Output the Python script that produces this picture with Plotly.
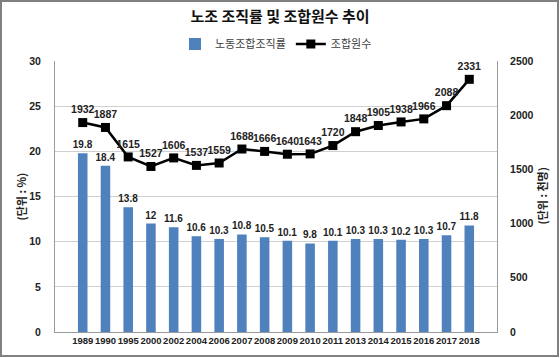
import plotly.graph_objects as go

years = ["1989", "1990", "1995", "2000", "2002", "2004", "2006", "2007", "2008",
         "2009", "2010", "2011", "2013", "2014", "2015", "2016", "2017", "2018"]
rate = [19.8, 18.4, 13.8, 12, 11.6, 10.6, 10.3, 10.8, 10.5,
        10.1, 9.8, 10.1, 10.3, 10.3, 10.2, 10.3, 10.7, 11.8]
members = [1932, 1887, 1615, 1527, 1606, 1537, 1559, 1688, 1666,
           1640, 1643, 1720, 1848, 1905, 1938, 1966, 2088, 2331]

KR = "Noto Sans CJK KR"
NUM = "Liberation Sans"
W, H = 560, 358
L, R, T, B = 55, 63, 61, 26
pw, ph = W - L - R, H - T - B

fig = go.Figure()
fig.add_trace(go.Bar(
    x=years, y=rate, name="노동조합조직률",
    marker=dict(color="#4F81BD", line=dict(width=0)),
    text=[f"{v:g}" for v in rate], textposition="outside",
    textfont=dict(family=NUM, size=10, color="#222222", weight="bold"),
    constraintext="none",
    cliponaxis=False, width=0.42,
))
fig.add_trace(go.Scatter(
    x=years, y=members, name="조합원수", yaxis="y2",
    mode="lines+markers+text",
    line=dict(color="black", width=2.5),
    marker=dict(symbol="square", size=9, color="black"),
    text=[str(v) for v in members], textposition="top center",
    textfont=dict(family=NUM, size=10.5, color="#222222", weight="bold"),
    cliponaxis=False,
))

fig.update_layout(
    width=W, height=H,
    margin=dict(l=L, r=R, t=T, b=B, autoexpand=False),
    paper_bgcolor="white", plot_bgcolor="white",
    font=dict(family=KR, color="#222222"),
    title=dict(text="<b>노조 조직률 및 조합원수 추이</b>", x=0.5, xanchor="center",
               y=1 - 17 / H, yanchor="middle",
               font=dict(family=KR, size=15, color="#111111")),
    legend=dict(orientation="h", x=0.5, xanchor="center", y=1 + 17 / ph, yanchor="middle",
                font=dict(family=KR, size=11, color="#404040"),
                itemwidth=30, bgcolor="rgba(0,0,0,0)"),
    showlegend=True,
    xaxis=dict(type="category", showgrid=False, showline=True, linecolor="#9a9a9a",
               linewidth=1, ticks="", tickangle=0, automargin=False,
               tickfont=dict(family=NUM, size=9.5, color="#222222", weight="bold")),
    yaxis=dict(range=[0, 30], dtick=5, showgrid=True, gridcolor="#d0d0d0",
               showline=True, linecolor="#9a9a9a", linewidth=1, ticks="",
               ticklabelstandoff=11, zeroline=False, automargin=False,
               tickfont=dict(family=NUM, size=10.5, color="#222222", weight="bold")),
    yaxis2=dict(range=[0, 2500], dtick=500, overlaying="y", side="right",
                showgrid=False, showline=True, linecolor="#9a9a9a", linewidth=1,
                ticks="", ticklabelstandoff=10, zeroline=False, automargin=False,
                tickfont=dict(family=NUM, size=10.5, color="#222222", weight="bold")),
)

fig.add_annotation(text="<b>(단위 : %)</b>", xref="paper", yref="paper",
                   x=(20 - L) / pw, y=0.5, textangle=-90, showarrow=False,
                   xanchor="center", yanchor="middle",
                   font=dict(family=KR, size=11, color="#222222"))
fig.add_annotation(text="<b>(단위 : 천명)</b>", xref="paper", yref="paper",
                   x=(541 - L) / pw, y=0.5, textangle=-90, showarrow=False,
                   xanchor="center", yanchor="middle",
                   font=dict(family=KR, size=11, color="#222222"))

fig.add_shape(type="rect", xref="paper", yref="paper",
              x0=(1 - L) / pw, x1=(W - 2 - L) / pw,
              y0=-(H - 2 - (H - B)) / ph, y1=(H - B - 1) / ph,
              line=dict(color="#808080", width=2), fillcolor="rgba(0,0,0,0)", layer="below")

fig.write_html("out.html",
               config={"displayModeBar": False},
               post_script="document.body.style.margin='0';document.body.style.overflow='hidden';")
